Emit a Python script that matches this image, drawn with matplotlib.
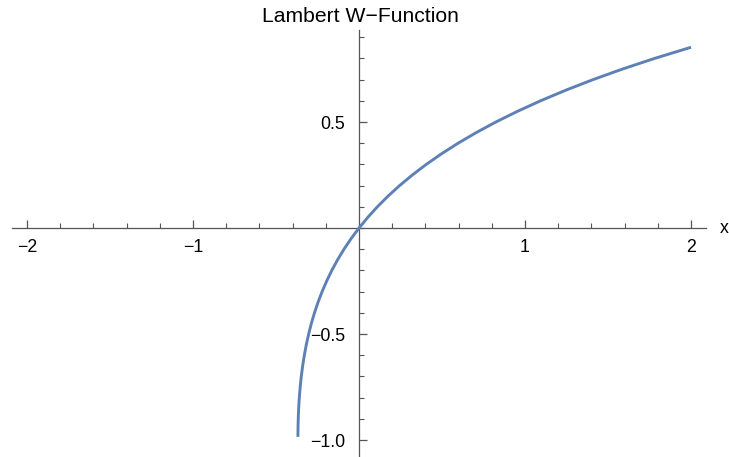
"""Lambert W function (principal branch) drawn with origin-centred axes."""

import matplotlib.pyplot as plt
from matplotlib.ticker import MultipleLocator

# Principal branch W(x), sampled from just right of the branch point -1/e up to x = 2
w_x = [-0.36784, -0.36780, -0.36771, -0.36757, -0.36741, -0.36693, -0.36591,
       -0.36475, -0.36330, -0.36154, -0.35946, -0.35428, -0.34761, -0.33933,
       -0.32929, -0.31732, -0.30327, -0.28693, -0.26813, -0.24664, -0.22225,
       -0.19470, -0.16375, -0.12911, -0.09048, -0.04756, 0.0,
       0.05256, 0.11052, 0.17427, 0.24428, 0.32101, 0.40496, 0.49667,
       0.59673, 0.70574, 0.82436, 0.95329, 1.09327, 1.24510, 1.40963,
       1.58775, 1.78043, 2.0]
w_y = [-0.985, -0.98, -0.97, -0.96, -0.95, -0.93, -0.90,
       -0.875, -0.85, -0.825, -0.80, -0.75, -0.70, -0.65,
       -0.60, -0.55, -0.50, -0.45, -0.40, -0.35, -0.30,
       -0.25, -0.20, -0.15, -0.10, -0.05, 0.0,
       0.05, 0.10, 0.15, 0.20, 0.25, 0.30, 0.35,
       0.40, 0.45, 0.50, 0.55, 0.60, 0.65, 0.70,
       0.75, 0.80, 0.8526]

x_ticks = [-2, -1, 1, 2]
x_tick_labels = ['\u22122', '\u22121', '1', '2']
y_ticks = [-1.0, -0.5, 0.5]
y_tick_labels = ['\u22121.0', '\u22120.5', '0.5']

plt.rcParams['font.family'] = ['Liberation Sans', 'DejaVu Sans']

W, H = 729, 457
fig = plt.figure(figsize=(W / 100, H / 100), dpi=100)
left, right, top, bottom = 12, 706, 30, 457
ax = fig.add_axes([left / W, 1 - bottom / H, (right - left) / W, (bottom - top) / H])

line_color = '#5E81B5'
axis_color = '#555555'
tick_fs = 12.8

ax.plot(w_x, w_y, color=line_color, lw=2.1, solid_capstyle='butt',
        solid_joinstyle='round', zorder=3)

ax.set_xlim(-2.09, 2.09)
ax.set_ylim(-1.08, 0.934)

for side in ('top', 'right'):
    ax.spines[side].set_visible(False)
for side in ('left', 'bottom'):
    ax.spines[side].set_position(('data', 0))
    ax.spines[side].set_color(axis_color)
    ax.spines[side].set_linewidth(0.9)

ax.set_xticks(x_ticks)
ax.set_xticklabels(x_tick_labels)
ax.set_yticks(y_ticks)
ax.set_yticklabels(y_tick_labels)
ax.xaxis.set_minor_locator(MultipleLocator(0.2))
ax.yaxis.set_minor_locator(MultipleLocator(0.1))

# ticks sit on the inner side: upward on x, rightward on y
ax.tick_params(axis='both', which='major', direction='in', length=6, width=0.9,
               color=axis_color, labelsize=tick_fs)
ax.tick_params(axis='both', which='minor', direction='in', length=3.5, width=0.8,
               color=axis_color)
ax.tick_params(axis='x', which='major', pad=8)
ax.tick_params(axis='y', which='major', pad=10)

ax.patch.set_visible(False)
ax.text(2.175, 0, 'x', ha='left', va='center', fontsize=tick_fs, clip_on=False)
fig.text(360 / W, 1 - 16 / H, 'Lambert W\u2212Function', ha='center', va='center',
         fontsize=15.2)

fig.savefig('out.png', dpi=100)
